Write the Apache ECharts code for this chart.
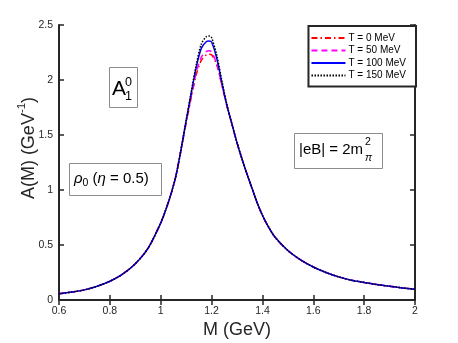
<!DOCTYPE html>
<html>
<head>
<meta charset="utf-8">
<script src="https://cdn.jsdelivr.net/npm/echarts@6/dist/echarts.min.js"></script>
<style>
  html, body { margin: 0; padding: 0; background: #fff; }
  #chart { width: 458px; height: 343px; }
</style>
</head>
<body>
<div id="chart"></div>
<script>
// invariant mass grid (GeV)
const massGeV = [0.6, 0.65, 0.7, 0.75, 0.8, 0.85, 0.9, 0.95, 1.0, 1.02, 1.04, 1.06, 1.08, 1.1, 1.12, 1.14, 1.16, 1.18, 1.19, 1.2,
  1.22, 1.24, 1.26, 1.28, 1.3, 1.32, 1.34, 1.36, 1.38, 1.4, 1.42, 1.45, 1.5, 1.55, 1.6, 1.65, 1.7, 1.75, 1.8, 1.85, 1.9, 1.95, 2.0]

// spectral function A(M) for each temperature
const specT0 = [0.057, 0.072, 0.092, 0.125, 0.17, 0.235, 0.33, 0.47, 0.70, 0.82, 0.96, 1.13, 1.36, 1.61, 1.84, 2.05, 2.18, 2.23, 2.235, 2.23,
  2.14, 1.96, 1.77, 1.60, 1.43, 1.28, 1.14, 1.01, 0.88, 0.77, 0.68, 0.57, 0.45, 0.365, 0.30, 0.25, 0.21, 0.18, 0.16, 0.14, 0.125, 0.11, 0.097]
const specT50 = [0.057, 0.072, 0.092, 0.125, 0.17, 0.235, 0.33, 0.47, 0.70, 0.82, 0.96, 1.13, 1.37, 1.62, 1.85, 2.07, 2.21, 2.26, 2.265, 2.255,
  2.15, 1.96, 1.77, 1.60, 1.43, 1.28, 1.14, 1.01, 0.88, 0.77, 0.68, 0.57, 0.45, 0.365, 0.30, 0.25, 0.21, 0.18, 0.16, 0.14, 0.125, 0.11, 0.097]
const specT100 = [0.057, 0.072, 0.092, 0.125, 0.17, 0.235, 0.33, 0.47, 0.70, 0.82, 0.96, 1.13, 1.37, 1.63, 1.88, 2.12, 2.29, 2.35, 2.355, 2.345,
  2.20, 1.98, 1.77, 1.60, 1.43, 1.28, 1.14, 1.01, 0.88, 0.77, 0.68, 0.57, 0.45, 0.365, 0.30, 0.25, 0.21, 0.18, 0.16, 0.14, 0.125, 0.11, 0.097]
const specT150 = [0.057, 0.072, 0.092, 0.125, 0.17, 0.235, 0.33, 0.47, 0.70, 0.82, 0.96, 1.13, 1.37, 1.63, 1.89, 2.14, 2.33, 2.395, 2.40, 2.385,
  2.23, 2.00, 1.78, 1.60, 1.43, 1.28, 1.14, 1.01, 0.88, 0.77, 0.68, 0.57, 0.45, 0.365, 0.30, 0.25, 0.21, 0.18, 0.16, 0.14, 0.125, 0.11, 0.097]

const seriesNames = ['T = 0 MeV', 'T = 50 MeV', 'T = 100 MeV', 'T = 150 MeV']
const xTickLabels = ['0.6', '0.8', '1', '1.2', '1.4', '1.6', '1.8', '2']
const yTickLabels = ['0', '0.5', '1', '1.5', '2', '2.5']

const FONT = 'Liberation Sans, Arial, sans-serif'
const INK = '#262626'

const toPairs = (ys) => massGeV.map((m, i) => [m, ys[i]])

const axisCommon = {
  axisLine: { lineStyle: { color: INK, width: 2 } },
  axisTick: { inside: true, length: 5, lineStyle: { color: INK, width: 1.5 } },
  splitLine: { show: false }
}

let myChart = echarts.init(document.getElementById('chart'), null, { renderer: 'canvas' })

let option = {
  animation: false,
  backgroundColor: '#fff',
  grid: { left: 59, right: 43, top: 25, bottom: 43, show: false },
  xAxis: [{
    type: 'value', min: 0.6, max: 2, interval: 0.2,
    ...axisCommon,
    axisLabel: {
      color: INK, fontSize: 10.5, fontFamily: FONT, margin: 6,
      formatter: (v) => xTickLabels[Math.round((v - 0.6) / 0.2)]
    }
  }, {
    type: 'value', position: 'top', min: 0.6, max: 2, interval: 0.2,
    ...axisCommon,
    axisLabel: { show: false }
  }],
  yAxis: [{
    type: 'value', min: 0, max: 2.5, interval: 0.5,
    ...axisCommon,
    axisLabel: {
      color: INK, fontSize: 10.5, fontFamily: FONT, margin: 6,
      formatter: (v) => yTickLabels[Math.round(v / 0.5)]
    }
  }, {
    type: 'value', position: 'right', min: 0, max: 2.5, interval: 0.5,
    ...axisCommon,
    axisLabel: { show: false }
  }],
  legend: {
    right: 42, top: 26,
    orient: 'vertical',
    backgroundColor: '#fff',
    borderColor: INK, borderWidth: 2, borderRadius: 0,
    padding: [7, 10, 6, 2],
    itemWidth: 34, itemHeight: 11, itemGap: 2.5,
    itemStyle: { opacity: 0 },
    textStyle: { fontSize: 10, fontFamily: FONT, color: '#000', padding: [0, 0, 0, -2] },
    data: seriesNames
  },
  series: [
    { name: seriesNames[0], data: toPairs(specT0), color: '#ff0000', lineStyle: { type: [6, 3, 1.5, 3], width: 1.5 } },
    { name: seriesNames[1], data: toPairs(specT50), color: '#ff00ff', lineStyle: { type: [6, 4], width: 1.5 } },
    { name: seriesNames[2], data: toPairs(specT100), color: '#0000ff', lineStyle: { type: 'solid', width: 1.5 } },
    { name: seriesNames[3], data: toPairs(specT150), color: '#000000', lineStyle: { type: [1.5, 1.5], width: 1.5 } }
  ].map((s) => ({ type: 'line', smooth: 0.3, symbol: 'none', xAxisIndex: 0, yAxisIndex: 0, ...s })),
  graphic: [
    // axis titles
    {
      type: 'text', x: 27, y: 148, rotation: Math.PI / 2, z: 100,
      style: {
        text: '{n|A(M) (GeV}{s|-1}{n|)}',
        align: 'center', verticalAlign: 'middle',
        rich: {
          n: { fontSize: 18, fontFamily: FONT, fill: INK, lineHeight: 22, verticalAlign: 'bottom' },
          s: { fontSize: 11.5, fontFamily: FONT, fill: INK, lineHeight: 11, verticalAlign: 'top' }
        }
      }
    },
    {
      type: 'text', x: 237, y: 330, z: 100,
      style: { text: 'M (GeV)', fontSize: 18, fontFamily: FONT, fill: INK, align: 'center', verticalAlign: 'middle' }
    },
    // A_1^0 box
    { type: 'rect', z: 100, shape: { x: 109.5, y: 67.5, width: 28, height: 40 }, style: { fill: '#fff', stroke: '#8c8c8c', lineWidth: 1 } },
    { type: 'text', z: 101, x: 112, y: 89, style: { text: 'A', fontSize: 21, fontFamily: FONT, fill: '#000', align: 'left', verticalAlign: 'middle' } },
    { type: 'text', z: 101, x: 125, y: 82.5, style: { text: '0', fontSize: 12.5, fontFamily: FONT, fill: '#000', align: 'left', verticalAlign: 'middle' } },
    { type: 'text', z: 101, x: 125, y: 96.5, style: { text: '1', fontSize: 12.5, fontFamily: FONT, fill: '#000', align: 'left', verticalAlign: 'middle' } },
    // rho_0 box
    { type: 'rect', z: 100, shape: { x: 69.5, y: 163.5, width: 92, height: 32 }, style: { fill: '#fff', stroke: '#8c8c8c', lineWidth: 1 } },
    {
      type: 'text', z: 101, x: 74, y: 179,
      style: {
        text: '{i|ρ}{sub|0}{n| (}{i|η}{n| = 0.5)}',
        align: 'left', verticalAlign: 'middle',
        rich: {
          n: { fontSize: 15, fontFamily: FONT, fill: '#000', lineHeight: 20, verticalAlign: 'middle' },
          i: { fontSize: 15, fontFamily: FONT, fontStyle: 'italic', fill: '#000', lineHeight: 20, verticalAlign: 'middle' },
          sub: { fontSize: 10.5, fontFamily: FONT, fill: '#000', lineHeight: 10, verticalAlign: 'bottom' }
        }
      }
    },
    // |eB| box
    { type: 'rect', z: 100, shape: { x: 294.5, y: 133.5, width: 88, height: 35 }, style: { fill: '#fff', stroke: '#8c8c8c', lineWidth: 1 } },
    { type: 'text', z: 101, x: 299, y: 150, style: { text: '|eB| = 2m', fontSize: 15, fontFamily: FONT, fill: '#000', align: 'left', verticalAlign: 'middle' } },
    { type: 'text', z: 101, x: 365, y: 142.5, style: { text: '2', fontSize: 10.5, fontFamily: FONT, fill: '#000', align: 'left', verticalAlign: 'middle' } },
    { type: 'text', z: 101, x: 365, y: 158, style: { text: 'π', fontSize: 10.5, fontFamily: FONT, fontStyle: 'italic', fill: '#000', align: 'left', verticalAlign: 'middle' } }
  ]
}

myChart.setOption(option)
</script>
</body>
</html>
